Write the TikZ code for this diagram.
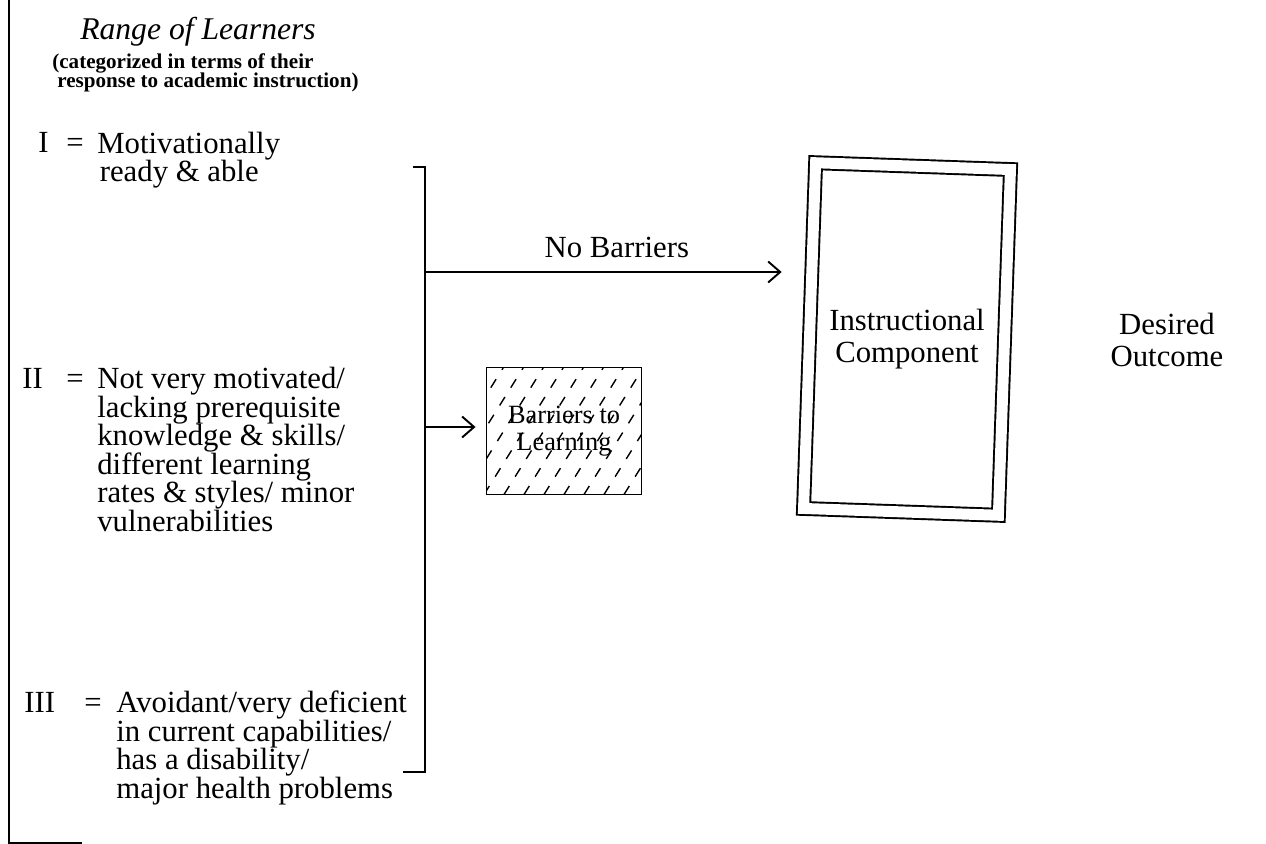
\documentclass[tikz,border=0pt]{standalone}
\usepackage{fontspec}
\setmainfont{Liberation Serif}
\usetikzlibrary{arrows.meta, calc}

\begin{document}
\begin{tikzpicture}[x=0.02cm, y=-0.02cm,
    every node/.style={inner sep=0pt},
    lbl/.style={font=\fontsize{17.5}{16.2}\selectfont, anchor=base west},
    % multi-line texts sit on the baseline of their last line
    txt/.style={font=\fontsize{17.5}{16.2}\selectfont, align=left, anchor=base west},
    mid/.style={font=\fontsize{17.5}{18}\selectfont, align=center},
    frm/.style={line width=1.1pt},
    arr/.style={line width=1.1pt, -{Straight Barb[length=2.4mm, width=4.2mm, line width=1.1pt]}},
    % double outlined, a little skewed block
    framebox/.style={draw, line width=1.1pt, double, double distance=0.22cm,
        minimum width=3.9cm, minimum height=6.92cm},
    % box hatched with short dashes
    hatched/.style={draw, line width=1.1pt, minimum width=3.1cm, minimum height=2.54cm,
        font=\fontsize{15}{15.5}\selectfont, align=center,
        path picture={
            \foreach \k in {-3.2,-2.8,...,1.6}
                \draw[line width=0.8pt, dash pattern=on 2mm off 2.2mm]
                    ([xshift=\k cm]path picture bounding box.south) -- ++(58:3.2cm);
        }}
]
\useasboundingbox (0,0) rectangle (1266,844);

% frame line at the left
\draw[line width=1.4pt] (9,0) -- (9,843) -- (82,843);

% heading
\node[font=\fontsize{18}{18}\selectfont\itshape, anchor=base] (title) at (198,40) {Range of Learners};
\node[font=\fontsize{12}{11}\selectfont\bfseries, align=left, anchor=base west] (subtitle) at (52,88)
    {(categorized in terms of their\\\hspace{0.1cm}response to academic instruction)};

% the three groups
\node[lbl] (oneN) at (38,153) {I};
\node[lbl] (oneEq) at (66,153) {=};
\node[txt] (one) at (97,182) {Motivationally\\\hspace{0.05cm}ready \& able};

\node[lbl] (twoN) at (22,388) {II};
\node[lbl] (twoEq) at (66,388) {=};
\node[txt] (two) at (97,531) {Not very motivated/\\lacking prerequisite\\knowledge \& skills/\\different learning\\rates \& styles/ minor\\vulnerabilities};

\node[lbl] (threeN) at (24,712) {III};
\node[lbl] (threeEq) at (84,712) {=};
\node[txt] (three) at (116,798) {Avoidant/very deficient\\in current capabilities/\\has a disability/\\major health problems};

% bracket
\draw[frm] (413,167) -- (425,167) -- (425,772) -- (403,772);
\coordinate (fork1) at (425,272);
\coordinate (fork2) at (425,427);

% blocks
\node[hatched] (barr) at (564,431) {Barriers to\\Learning};
\node[framebox, rotate=-2] (instr) at (907,339) {};
\node[mid] (instrText) at (instr.center) {Instructional\\Component};
\node[mid] (outcome) at (1167,340) {Desired\\Outcome};

% arrows
\draw[arr, shorten >=0.54cm] (fork1) -- node[mid, above=0.26cm] (nb) {No Barriers} (fork1 -| instr.west);
\draw[arr, shorten >=0.2cm] (fork2) -- (fork2 -| barr.west);
\end{tikzpicture}
\end{document}
